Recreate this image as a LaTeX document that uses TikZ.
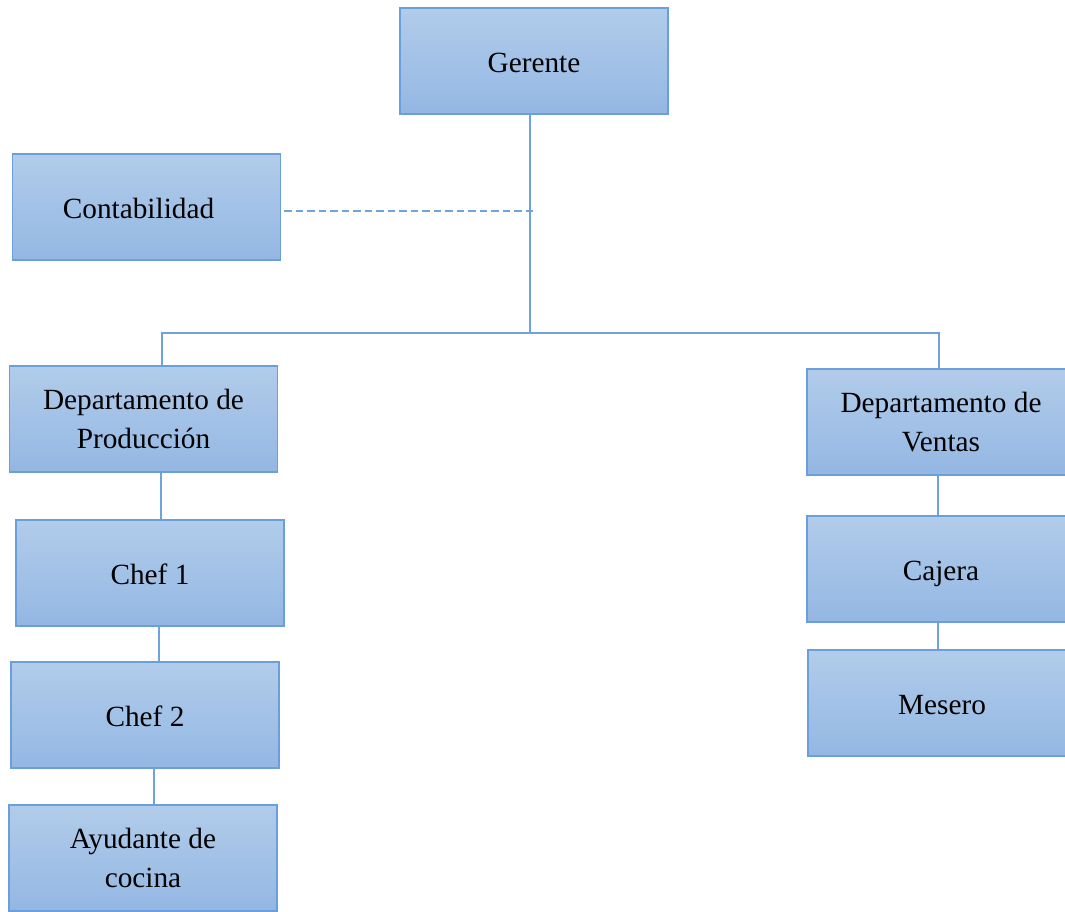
\documentclass[tikz,border=0pt]{standalone}
\usepackage{fontspec}
\setmainfont{Liberation Serif}
\definecolor{boxtop}{HTML}{B2CCEA}
\definecolor{boxbot}{HTML}{93B7E3}
\definecolor{boxline}{HTML}{6A9FDB}
\definecolor{linkcol}{HTML}{6FA3DD}
\tikzset{
  unitbox/.style={draw=boxline, line width=1.5pt, top color=boxtop, bottom color=boxbot,
    rectangle, minimum width=268pt, minimum height=106pt, inner sep=0pt,
    align=center, font=\fontsize{29.3}{39}\selectfont},
  oneline/.style={text height=26pt, text depth=4pt},
  link/.style={draw=linkcol, line width=1.4pt},
  dotlink/.style={draw=linkcol, line width=1.8pt, dash pattern=on 7.5pt off 4pt}
}
\begin{document}
\begin{tikzpicture}[x=1pt, y=-1pt]
  \useasboundingbox (0,0) rectangle (1065,911);
  % boxes
  \node[unitbox, oneline] (ger)  at (534,61)   {Gerente};
  \node[unitbox, oneline] (cont) at (146.5,207) {Contabilidad\hspace*{16pt}};
  \node[unitbox] (prod) at (143.5,419) {Departamento de\\Producción};
  \node[unitbox, oneline] (chef1) at (150,573) {Chef 1};
  \node[unitbox, oneline] (chef2) at (145,715) {Chef 2};
  \node[unitbox] (ayud) at (143,858)  {Ayudante de\\cocina};
  \node[unitbox] (vent) at (941,422)  {Departamento de\\Ventas};
  \node[unitbox, oneline] (caj)  at (941,569)  {Cajera};
  \node[unitbox, oneline] (mes)  at (942,703)  {Mesero};
  % junction points of the connectors
  \coordinate (trunk) at (530,0);
  \coordinate (barL) at (162,333);
  \coordinate (barR) at (939,333);
  \coordinate (dashend) at (535,211);
  \coordinate (lp) at (161,0);
  \coordinate (lc) at (159,0);
  \coordinate (la) at (154,0);
  \coordinate (lv) at (938,0);
  % main hierarchy
  \draw[link] (ger.south -| trunk) -- (trunk |- barL);
  \draw[link] (prod.north -| barL) -- (barL) -- (barR) -- (vent.north -| barR);
  \draw[dotlink] ([xshift=3pt]cont.east |- dashend) -- (dashend);
  % production branch
  \draw[link] (prod.south -| lp) -- (chef1.north -| lp);
  \draw[link] (chef1.south -| lc) -- (chef2.north -| lc);
  \draw[link] (chef2.south -| la) -- (ayud.north -| la);
  % sales branch
  \draw[link] (vent.south -| lv) -- (caj.north -| lv);
  \draw[link] (caj.south -| lv) -- (mes.north -| lv);
\end{tikzpicture}
\end{document}
